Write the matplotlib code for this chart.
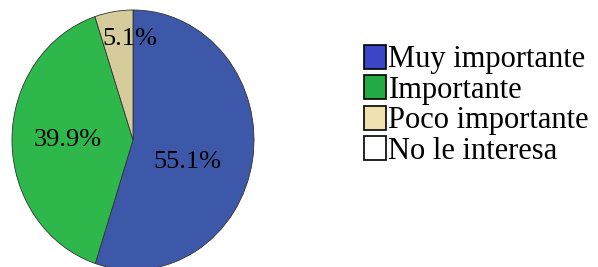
import matplotlib.pyplot as plt
from matplotlib.patches import Patch

labels = ["Muy importante", "Importante", "Poco importante", "No le interesa"]
values = [55.1, 39.9, 5.1, 0.0]
pct_text = ["55.1%", "39.9%", "5.1%", ""]
pie_colors = ["#3e58a9", "#2eb84b", "#d5cb9b", "#ffffff"]
legend_colors = ["#3c45c8", "#22aa44", "#efe2b0", "#ffffff"]

plt.rcParams["font.family"] = ["Liberation Serif", "DejaVu Serif"]

fig = plt.figure(figsize=(5.98, 2.67), dpi=100)
ax = fig.add_axes([12 / 598, -3 / 267, 242 / 598, 260 / 267])

wedges, texts = ax.pie(
    values[:3],
    colors=pie_colors[:3],
    startangle=90,
    counterclock=False,
    wedgeprops=dict(edgecolor="#333333", linewidth=0.6),
)
ax.set_aspect("auto")
ax.set_xlim(-1, 1)
ax.set_ylim(-1, 1)

# percentage labels
label_pos = [(0.45, -0.17), (-0.54, 0.0), (-0.03, 0.78)]
for (x, y), t in zip(label_pos, pct_text[:3]):
    ax.text(x, y, t, fontsize=19, ha="center", va="center")

handles = [Patch(facecolor=c, edgecolor="black", linewidth=1.2) for c in legend_colors]
fig.legend(
    handles,
    labels,
    loc="upper left",
    bbox_to_anchor=(364 / 598, 1 - 45 / 267),
    frameon=False,
    fontsize=22,
    handlelength=0.72,
    handleheight=0.82,
    handletextpad=0.08,
    labelspacing=0.03,
    borderpad=0,
    borderaxespad=0,
)

fig.savefig("out.png", dpi=100)
